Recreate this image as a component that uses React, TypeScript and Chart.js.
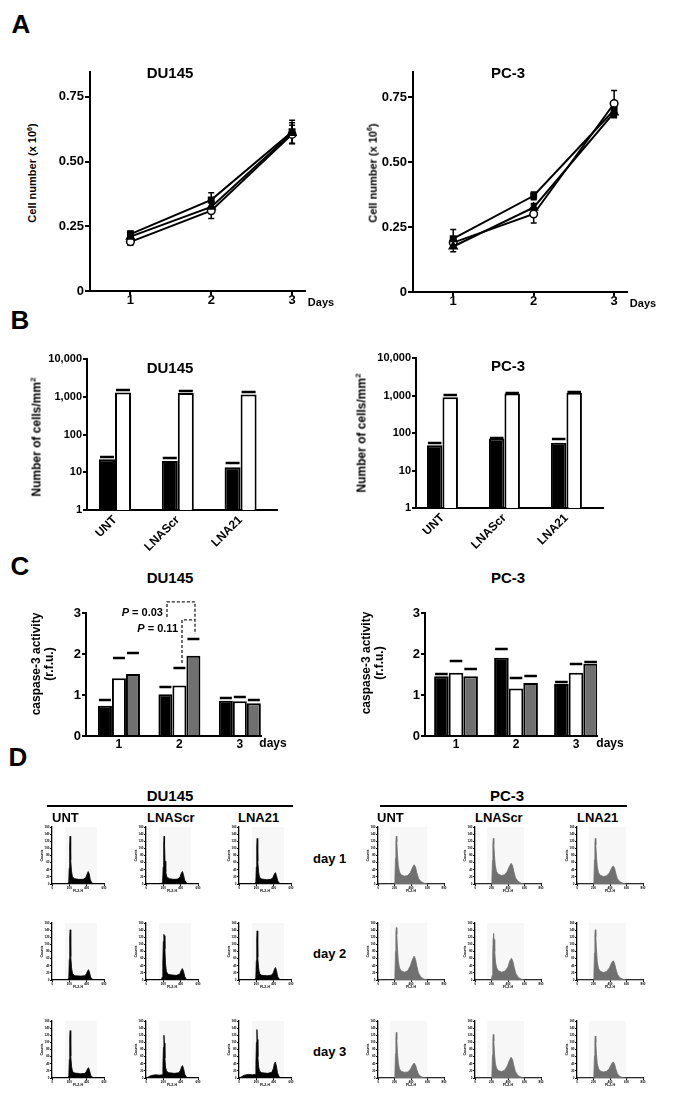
import React, { useEffect, useRef } from 'react';
import { Chart, registerables } from 'chart.js';

Chart.register(...registerables);

const FONT = "'Liberation Sans', Arial, Helvetica, sans-serif";
Chart.defaults.font.family = FONT;
Chart.defaults.color = '#000';

// ---------------- Panel A: growth curves ----------------
const A_DAYS = [1, 2, 3];
const A_X_LABELS = ['1', '2', '3'];
const A_Y_TICKS = [0, 0.25, 0.5, 0.75];
const A_Y_LABELS = ['0', '0.25', '0.50', '0.75'];

const DU_A_SQUARE = [0.22, 0.352, 0.615];
const DU_A_SQUARE_ERR = [0.012, 0.028, 0.045];
const DU_A_TRIANGLE = [0.21, 0.325, 0.61];
const DU_A_TRIANGLE_ERR = [0.01, 0.02, 0.04];
const DU_A_CIRCLE = [0.19, 0.31, 0.605];
const DU_A_CIRCLE_ERR = [0.013, 0.03, 0.035];

const PC_A_SQUARE = [0.205, 0.37, 0.7];
const PC_A_SQUARE_ERR = [0.035, 0.015, 0.02];
const PC_A_TRIANGLE = [0.175, 0.325, 0.69];
const PC_A_TRIANGLE_ERR = [0.02, 0.015, 0.02];
const PC_A_CIRCLE = [0.19, 0.3, 0.725];
const PC_A_CIRCLE_ERR = [0.015, 0.035, 0.05];

// ---------------- Panel B: invasion (log) ----------------
const B_CATS = ['UNT', 'LNAScr', 'LNA21'];
const B_POS = [1, 2, 3];
const B_Y_TICKS = [1, 10, 100, 1000, 10000];
const B_Y_LABELS = ['1', '10', '100', '1,000', '10,000'];

const DU_B_BLACK = [22, 20, 13.5];
const DU_B_BLACK_CAP = [26, 24.5, 17.5];
const DU_B_WHITE = [1300, 1250, 1150];
const DU_B_WHITE_CAP = [1480, 1380, 1300];

const PC_B_BLACK = [47, 71, 55];
const PC_B_BLACK_CAP = [55, 75, 68];
const PC_B_WHITE = [900, 1130, 1180];
const PC_B_WHITE_CAP = [1010, 1190, 1240];

// ---------------- Panel C: caspase-3 ----------------
const C_DAYS = [1, 2, 3];
const C_X_LABELS = ['1', '2', '3'];
const C_Y_TICKS = [0, 1, 2, 3];
const C_Y_LABELS = ['0', '1', '2', '3'];

const DU_C_BLACK = [0.74, 1.02, 0.86];
const DU_C_BLACK_CAP = [0.89, 1.19, 0.93];
const DU_C_WHITE = [1.41, 1.23, 0.85];
const DU_C_WHITE_CAP = [1.91, 1.67, 0.95];
const DU_C_GRAY = [1.51, 1.96, 0.8];
const DU_C_GRAY_CAP = [2.03, 2.37, 0.87];

const PC_C_BLACK = [1.46, 1.91, 1.27];
const PC_C_BLACK_CAP = [1.51, 2.11, 1.32];
const PC_C_WHITE = [1.54, 1.16, 1.54];
const PC_C_WHITE_CAP = [1.84, 1.41, 1.76];
const PC_C_GRAY = [1.46, 1.29, 1.76];
const PC_C_GRAY_CAP = [1.63, 1.47, 1.81];

const C_BRACKET_003 = [[1.795, 2.9], [1.795, 3.27], [2.258, 3.27], [2.258, 2.49]];
const C_BRACKET_011 = [[2.043, 1.78], [2.043, 2.83], [2.258, 2.83]];

// ---------------- Panel D: DNA content histograms ----------------
const DU_H_X_TICKS = [0, 200, 400, 600];
const PC_H_X_TICKS = [0, 200, 400, 600, 800];
const H_Y_TICKS = [0, 20, 40, 60, 80, 100, 120, 140, 160];
const DU_GATE = [150, 520];
const PC_GATE = [145, 595];

const DU_D1_UNT = [[0,0],[182,0],[193,6],[199,45],[204,105],[209,134],[213,112],[218,68],[225,36],[236,20],[260,15],[310,13],[360,13],[390,18],[405,28],[418,35],[430,28],[442,12],[460,3],[485,0],[600,0]];
const DU_D1_SCR = [[0,0],[180,0],[192,7],[198,48],[204,112],[209,134],[214,110],[220,64],[228,34],[240,20],[270,15],[320,13],[370,14],[393,20],[408,31],[420,35],[432,27],[446,11],[465,3],[490,0],[600,0]];
const DU_D1_LNA = [[0,0],[183,0],[194,6],[200,48],[205,104],[210,128],[214,106],[219,64],[226,34],[237,19],[262,14],[320,12],[370,13],[393,19],[408,28],[420,32],[432,24],[447,9],[466,2],[490,0],[600,0]];
const DU_D2_UNT = [[0,0],[183,0],[194,7],[200,58],[205,120],[210,141],[214,114],[219,66],[226,34],[237,18],[262,12],[330,11],[380,12],[398,18],[410,25],[421,29],[432,22],[446,8],[466,2],[490,0],[600,0]];
const DU_D2_SCR = [[0,0],[176,0],[187,8],[194,48],[200,108],[206,128],[212,124],[218,88],[225,46],[235,24],[255,16],[300,14],[350,13],[388,16],[405,26],[419,32],[432,25],[448,9],[467,2],[492,0],[600,0]];
const DU_D2_LNA = [[0,0],[183,0],[194,7],[200,55],[205,116],[210,138],[214,112],[219,64],[226,34],[237,18],[262,13],[330,12],[380,14],[398,22],[410,31],[421,35],[432,27],[446,10],[466,2],[490,0],[600,0]];
const DU_D3_UNT = [[0,0],[183,0],[194,6],[200,52],[205,112],[210,133],[214,108],[219,62],[226,32],[237,18],[262,14],[330,12],[380,13],[398,19],[410,26],[421,29],[432,22],[446,8],[466,2],[490,0],[600,0]];
const DU_D3_SCR = [[0,0],[20,2],[60,7],[110,9],[160,8],[185,9],[195,32],[201,86],[207,120],[212,98],[218,56],[226,30],[238,19],[262,15],[330,13],[380,15],[398,22],[410,31],[421,35],[433,27],[448,10],[468,2],[492,0],[600,0]];
const DU_D3_LNA = [[0,0],[20,2],[60,8],[110,10],[160,9],[185,10],[195,38],[201,100],[207,136],[212,108],[218,60],[226,32],[238,19],[262,15],[330,13],[378,16],[396,26],[408,40],[419,45],[431,34],[445,14],[464,3],[488,0],[600,0]];

const PC_D1_UNT = [[0,0],[196,0],[205,14],[212,72],[217,120],[222,134],[228,118],[236,82],[246,52],[260,34],[280,26],[320,22],[360,24],[392,32],[418,46],[438,54],[455,48],[470,32],[490,16],[520,7],[560,2],[600,0],[800,0]];
const PC_D1_SCR = [[0,0],[196,0],[205,13],[212,66],[217,114],[222,128],[228,112],[236,80],[246,52],[260,36],[280,28],[320,24],[360,26],[392,36],[418,50],[438,58],[455,52],[470,36],[490,18],[520,8],[560,2],[600,0],[800,0]];
const PC_D1_LNA = [[0,0],[196,0],[205,13],[212,68],[217,114],[222,128],[228,110],[236,76],[246,48],[260,32],[280,25],[320,21],[360,23],[392,31],[418,44],[438,51],[455,45],[470,30],[490,15],[520,6],[560,2],[600,0],[800,0]];
const PC_D2_UNT = [[0,0],[196,0],[205,15],[212,80],[217,132],[222,147],[228,128],[236,88],[246,54],[260,34],[280,26],[320,22],[360,26],[392,40],[418,58],[438,67],[455,58],[470,40],[490,20],[520,8],[560,2],[600,0],[800,0]];
const PC_D2_SCR = [[0,0],[199,0],[208,13],[215,68],[220,118],[225,131],[231,114],[239,80],[249,50],[263,34],[283,26],[325,22],[365,25],[398,36],[423,54],[443,61],[460,52],[475,36],[495,18],[525,7],[565,2],[605,0],[800,0]];
const PC_D2_LNA = [[0,0],[196,0],[205,15],[212,76],[217,128],[222,141],[228,122],[236,84],[246,52],[260,33],[280,25],[320,21],[360,24],[392,34],[418,48],[438,54],[455,47],[470,32],[490,16],[520,6],[560,2],[600,0],[800,0]];
const PC_D3_UNT = [[0,0],[196,0],[205,13],[212,68],[217,116],[222,128],[228,108],[236,72],[246,42],[260,26],[280,19],[320,16],[360,17],[392,24],[418,36],[438,42],[455,36],[470,24],[490,11],[520,4],[560,1],[600,0],[800,0]];
const PC_D3_SCR = [[0,0],[196,0],[205,12],[212,64],[217,110],[222,122],[228,104],[236,70],[246,42],[260,28],[280,21],[320,18],[360,22],[392,34],[418,50],[438,58],[455,52],[470,36],[490,18],[520,7],[560,2],[600,0],[800,0]];
const PC_D3_LNA = [[0,0],[196,0],[205,12],[212,62],[217,106],[222,118],[228,100],[236,66],[246,40],[260,27],[280,20],[320,17],[360,19],[392,27],[418,39],[438,45],[455,39],[470,26],[490,12],[520,4],[560,1],[600,0],[800,0]];

const D_COLUMNS = ['UNT', 'LNAScr', 'LNA21'];
const D_DAYS = ['day 1', 'day 2', 'day 3'];
const DU_HISTS = [[DU_D1_UNT, DU_D1_SCR, DU_D1_LNA], [DU_D2_UNT, DU_D2_SCR, DU_D2_LNA], [DU_D3_UNT, DU_D3_SCR, DU_D3_LNA]];
const PC_HISTS = [[PC_D1_UNT, PC_D1_SCR, PC_D1_LNA], [PC_D2_UNT, PC_D2_SCR, PC_D2_LNA], [PC_D3_UNT, PC_D3_SCR, PC_D3_LNA]];

// ---------------- layout (positions only) ----------------
const DU_H_LEFT = [52, 146, 239];
const PC_H_LEFT = [378, 475, 577];
const H_ROW_BOTTOM = [884, 980, 1078];
const GRAY = '#707070';

// ---------------- plugins ----------------
const errorPlugin = {
  id: 'errorBars',
  beforeDatasetsDraw(chart: any) {
    const ctx = chart.ctx;
    const ys = chart.scales.y;
    chart.data.datasets.forEach((ds: any, i: number) => {
      if (!ds.errors) return;
      const meta = chart.getDatasetMeta(i);
      ctx.save();
      ctx.strokeStyle = '#000';
      ctx.lineWidth = 1.5;
      meta.data.forEach((pt: any, j: number) => {
        const v = ds.data[j].y;
        const e = ds.errors[j];
        const y1 = ys.getPixelForValue(v + e);
        const y2 = ys.getPixelForValue(v - e);
        ctx.beginPath();
        ctx.moveTo(pt.x, y1); ctx.lineTo(pt.x, y2);
        ctx.moveTo(pt.x - 3, y1); ctx.lineTo(pt.x + 3, y1);
        ctx.moveTo(pt.x - 3, y2); ctx.lineTo(pt.x + 3, y2);
        ctx.stroke();
      });
      ctx.restore();
    });
  },
};

const capPlugin = {
  id: 'capBars',
  afterDatasetsDraw(chart: any) {
    const ctx = chart.ctx;
    const ys = chart.scales.y;
    chart.data.datasets.forEach((ds: any, i: number) => {
      if (!ds.caps) return;
      const meta = chart.getDatasetMeta(i);
      ctx.save();
      ctx.strokeStyle = '#000';
      ctx.lineWidth = 2.5;
      meta.data.forEach((bar: any, j: number) => {
        const y = Math.round(ys.getPixelForValue(ds.caps[j]));
        const hw = bar.width / 2 - 1;
        ctx.beginPath();
        ctx.moveTo(bar.x - hw, y);
        ctx.lineTo(bar.x + hw, y);
        ctx.stroke();
      });
      ctx.restore();
    });
  },
};

function bracketPlugin(lines: number[][][]) {
  return {
    id: 'brackets',
    afterDraw(chart: any) {
      const ctx = chart.ctx;
      const xs = chart.scales.x;
      const ys = chart.scales.y;
      ctx.save();
      ctx.strokeStyle = '#222';
      ctx.lineWidth = 1.3;
      ctx.setLineDash([3, 2]);
      lines.forEach((pts) => {
        ctx.beginPath();
        pts.forEach(([x, y], k) => {
          const px = xs.getPixelForValue(x);
          const py = ys.getPixelForValue(y);
          if (k === 0) ctx.moveTo(px, py); else ctx.lineTo(px, py);
        });
        ctx.stroke();
      });
      ctx.restore();
    },
  };
}

function gatePlugin(gate: number[]) {
  return {
    id: 'gate',
    beforeDatasetsDraw(chart: any) {
      const { ctx, chartArea } = chart;
      const xs = chart.scales.x;
      const x0 = xs.getPixelForValue(gate[0]);
      const x1 = xs.getPixelForValue(gate[1]);
      ctx.save();
      ctx.fillStyle = '#f7f7f7';
      ctx.fillRect(x0, chartArea.top, x1 - x0, chartArea.bottom - chartArea.top - 1);
      ctx.restore();
    },
  };
}

// ---------------- generic chart box ----------------
type Rect = { l: number; t: number; r: number; b: number };
type Margin = { ml: number; mt: number; mr: number; mb: number };

function ChartBox({ rect, m, make }: { rect: Rect; m: Margin; make: () => any }) {
  const ref = useRef<HTMLCanvasElement>(null);
  const x = rect.l - m.ml;
  const y = rect.t - m.mt;
  const w = rect.r - rect.l + m.ml + m.mr;
  const h = rect.b - rect.t + m.mt + m.mb;
  useEffect(() => {
    const cfg = make();
    const o = cfg.options;
    o.responsive = false;
    o.animation = false;
    o.devicePixelRatio = 1;
    o.events = [];
    o.layout = { padding: { top: m.mt, right: m.mr, left: 0, bottom: 0 } };
    o.plugins = { legend: { display: false }, tooltip: { enabled: false }, title: { display: false } };
    o.scales.x.afterFit = (s: any) => { s.height = m.mb; };
    o.scales.y.afterFit = (s: any) => { s.width = m.ml; };
    const chart = new Chart(ref.current as HTMLCanvasElement, cfg);
    return () => chart.destroy();
  }, []);
  return (
    <canvas
      ref={ref}
      width={w}
      height={h}
      style={{ position: 'absolute', left: x, top: y, width: w, height: h }}
    />
  );
}

const axisGrid = (len: number, lw: number) => ({
  display: true,
  drawOnChartArea: false,
  drawTicks: len > 0,
  tickLength: len,
  color: '#000',
  lineWidth: lw,
  offset: false,
});

// ---------------- config builders ----------------
function lineConfig(sq: number[], sqE: number[], tri: number[], triE: number[], cir: number[], cirE: number[]) {
  const mk = (vals: number[]) => A_DAYS.map((d, i) => ({ x: d, y: vals[i] }));
  const base = { borderColor: '#000', borderWidth: 2, tension: 0, pointBorderColor: '#000' };
  return {
    type: 'line',
    data: {
      datasets: [
        { ...base, data: mk(sq), errors: sqE, pointStyle: 'rect', pointRadius: 3.5, pointBackgroundColor: '#000' },
        { ...base, data: mk(tri), errors: triE, pointStyle: 'triangle', pointRadius: 4, pointBackgroundColor: '#000' },
        { ...base, data: mk(cir), errors: cirE, pointStyle: 'circle', pointRadius: 3.8, pointBorderWidth: 1.5, pointBackgroundColor: '#fff' },
      ],
    },
    options: {
      scales: {
        x: {
          type: 'linear', min: 0.5, max: 3.16, offset: false,
          afterBuildTicks: (s: any) => { s.ticks = A_DAYS.map((v) => ({ value: v })); },
          ticks: { autoSkip: false, maxRotation: 0, padding: -2, font: { size: 13, weight: 'bold' }, callback: (_v: any, i: number) => A_X_LABELS[i] },
          grid: axisGrid(4, 2),
          border: { display: true, color: '#000', width: 2 },
        },
        y: {
          type: 'linear', min: 0, max: 0.846,
          afterBuildTicks: (s: any) => { s.ticks = A_Y_TICKS.map((v) => ({ value: v })); },
          ticks: { autoSkip: false, padding: 1, font: { size: 13, weight: 'bold' }, callback: (_v: any, i: number) => A_Y_LABELS[i] },
          grid: axisGrid(5, 2),
          border: { display: true, color: '#000', width: 2 },
        },
      },
    },
    plugins: [errorPlugin],
  };
}

function logBarConfig(black: number[], blackCap: number[], white: number[], whiteCap: number[], xmin: number, xmax: number, pct: number) {
  const mk = (vals: number[]) => B_POS.map((p, i) => ({ x: p, y: vals[i] }));
  return {
    type: 'bar',
    data: {
      datasets: [
        { data: mk(black), caps: blackCap, backgroundColor: '#000', borderColor: '#000', borderWidth: 2, categoryPercentage: pct, barPercentage: 1 },
        { data: mk(white), caps: whiteCap, backgroundColor: '#fff', borderColor: '#000', borderWidth: 2, categoryPercentage: pct, barPercentage: 1 },
      ],
    },
    options: {
      scales: {
        x: {
          type: 'linear', min: xmin, max: xmax, offset: false,
          afterBuildTicks: (s: any) => { s.ticks = B_POS.map((v) => ({ value: v })); },
          ticks: { autoSkip: false, minRotation: 45, maxRotation: 45, padding: 3, font: { size: 12, weight: 'bold' }, callback: (_v: any, i: number) => B_CATS[i] },
          grid: axisGrid(0, 2),
          border: { display: true, color: '#000', width: 2 },
        },
        y: {
          type: 'logarithmic', min: 1, max: 10000,
          afterBuildTicks: (s: any) => { s.ticks = B_Y_TICKS.map((v) => ({ value: v })); },
          ticks: { autoSkip: false, padding: 1, font: { size: 11, weight: 'bold' }, callback: (_v: any, i: number) => B_Y_LABELS[i] },
          grid: axisGrid(4, 2),
          border: { display: true, color: '#000', width: 2 },
        },
      },
    },
    plugins: [capPlugin],
  };
}

function casBarConfig(
  black: number[], blackCap: number[], white: number[], whiteCap: number[], gray: number[], grayCap: number[],
  xmin: number, xmax: number, pct: number, extra: any[],
) {
  const mk = (vals: number[]) => C_DAYS.map((d, i) => ({ x: d, y: vals[i] }));
  const common = { borderColor: '#000', borderWidth: 2, categoryPercentage: pct, barPercentage: 1 };
  return {
    type: 'bar',
    data: {
      datasets: [
        { ...common, data: mk(black), caps: blackCap, backgroundColor: '#000' },
        { ...common, data: mk(white), caps: whiteCap, backgroundColor: '#fff' },
        { ...common, data: mk(gray), caps: grayCap, backgroundColor: GRAY },
      ],
    },
    options: {
      scales: {
        x: {
          type: 'linear', min: xmin, max: xmax, offset: false,
          afterBuildTicks: (s: any) => { s.ticks = C_DAYS.map((v) => ({ value: v })); },
          ticks: { autoSkip: false, maxRotation: 0, padding: 1, font: { size: 12, weight: 'bold' }, callback: (_v: any, i: number) => C_X_LABELS[i] },
          grid: axisGrid(0, 2),
          border: { display: true, color: '#000', width: 2 },
        },
        y: {
          type: 'linear', min: 0, max: 3,
          afterBuildTicks: (s: any) => { s.ticks = C_Y_TICKS.map((v) => ({ value: v })); },
          ticks: { autoSkip: false, padding: 1, font: { size: 13, weight: 'bold' }, callback: (_v: any, i: number) => C_Y_LABELS[i] },
          grid: axisGrid(4, 2),
          border: { display: true, color: '#000', width: 2 },
        },
      },
    },
    plugins: [capPlugin, ...extra],
  };
}

function histConfig(points: number[][], xMax: number, xTicks: number[], fill: string, gate: number[]) {
  return {
    type: 'line',
    data: {
      datasets: [
        {
          data: points.map(([x, y]) => ({ x, y })),
          fill: 'origin',
          backgroundColor: fill,
          borderColor: fill,
          borderWidth: 0.8,
          pointRadius: 0,
          tension: 0,
        },
      ],
    },
    options: {
      scales: {
        x: {
          type: 'linear', min: 0, max: xMax,
          afterBuildTicks: (s: any) => { s.ticks = xTicks.map((v) => ({ value: v })); },
          ticks: { autoSkip: false, maxRotation: 0, padding: 0.5, font: { size: 3, weight: 'bold' }, callback: (v: any) => String(v) },
          grid: axisGrid(2, 1),
          border: { display: true, color: '#000', width: 1.3 },
          title: { display: true, text: 'FL2-H', padding: 0, font: { size: 3.5, weight: 'bold' } },
        },
        y: {
          type: 'linear', min: 0, max: 160,
          afterBuildTicks: (s: any) => { s.ticks = H_Y_TICKS.map((v) => ({ value: v })); },
          ticks: { autoSkip: false, padding: 0.5, font: { size: 3, weight: 'bold' }, callback: (v: any) => String(v) },
          grid: axisGrid(2, 1),
          border: { display: true, color: '#000', width: 1.3 },
          title: { display: true, text: 'Counts', padding: 0, font: { size: 3.5, weight: 'bold' } },
        },
      },
    },
    plugins: [gatePlugin(gate)],
  };
}

// ---------------- text helpers ----------------
function Txt({ x, y, children, size = 13, bold = true, align = 'center', rot = false, italic = false, lh = 1 }: any) {
  const tx = align === 'center' ? '-50%' : align === 'right' ? '-100%' : '0';
  return (
    <div
      style={{
        position: 'absolute', left: x, top: y,
        transform: `translate(${tx}, -50%)${rot ? ' rotate(-90deg)' : ''}`,
        fontFamily: FONT, fontSize: size, fontWeight: bold ? 'bold' : 'normal',
        fontStyle: italic ? 'italic' : 'normal', lineHeight: lh, whiteSpace: 'nowrap',
        textAlign: 'center', color: '#000',
      }}
    >
      {children}
    </div>
  );
}

function HLine({ x1, x2, y }: any) {
  return <div style={{ position: 'absolute', left: x1, top: y - 1, width: x2 - x1, height: 2, background: '#000' }} />;
}

// ---------------- App ----------------
export default function App() {
  const histMargin = { ml: 12, mt: 3, mr: 4, mb: 9 };
  const hists: any[] = [];
  H_ROW_BOTTOM.forEach((b, r) => {
    DU_H_LEFT.forEach((l, c) => {
      hists.push(
        <ChartBox key={`du${r}${c}`} rect={{ l, t: b - 57, r: l + 52, b }} m={histMargin}
          make={() => histConfig(DU_HISTS[r][c], 600, DU_H_X_TICKS, '#000', DU_GATE)} />,
      );
    });
    PC_H_LEFT.forEach((l, c) => {
      hists.push(
        <ChartBox key={`pc${r}${c}`} rect={{ l, t: b - 57, r: l + 66, b }} m={histMargin}
          make={() => histConfig(PC_HISTS[r][c], 800, PC_H_X_TICKS, GRAY, PC_GATE)} />,
      );
    });
  });

  return (
    <div style={{ position: 'absolute', left: 0, top: 0, width: 685, height: 1096, background: '#fff', overflow: 'hidden' }}>
      {/* Panel letters */}
      <Txt x={21} y={24} size={26}>A</Txt>
      <Txt x={20} y={320} size={26}>B</Txt>
      <Txt x={20} y={566} size={26}>C</Txt>
      <Txt x={18} y={757} size={26}>D</Txt>

      {/* Panel A */}
      <ChartBox rect={{ l: 90, t: 72, r: 305, b: 291 }} m={{ ml: 50, mt: 12, mr: 15, mb: 30 }}
        make={() => lineConfig(DU_A_SQUARE, DU_A_SQUARE_ERR, DU_A_TRIANGLE, DU_A_TRIANGLE_ERR, DU_A_CIRCLE, DU_A_CIRCLE_ERR)} />
      <ChartBox rect={{ l: 413, t: 72, r: 627, b: 292 }} m={{ ml: 50, mt: 12, mr: 15, mb: 30 }}
        make={() => lineConfig(PC_A_SQUARE, PC_A_SQUARE_ERR, PC_A_TRIANGLE, PC_A_TRIANGLE_ERR, PC_A_CIRCLE, PC_A_CIRCLE_ERR)} />
      <Txt x={170} y={72} size={15}>DU145</Txt>
      <Txt x={508} y={72} size={15}>PC-3</Txt>
      <Txt x={32} y={173} size={11} rot>Cell number (x 10<sup style={{ fontSize: 7 }}>6</sup>)</Txt>
      <Txt x={372} y={173} size={11} rot>Cell number (x 10<sup style={{ fontSize: 7 }}>6</sup>)</Txt>
      <Txt x={321} y={302} size={11}>Days</Txt>
      <Txt x={643} y={303} size={11}>Days</Txt>

      {/* Panel B */}
      <ChartBox rect={{ l: 87, t: 359, r: 277, b: 510 }} m={{ ml: 50, mt: 14, mr: 15, mb: 55 }}
        make={() => logBarConfig(DU_B_BLACK, DU_B_BLACK_CAP, DU_B_WHITE, DU_B_WHITE_CAP, 0.554, 3.58, 0.51)} />
      <ChartBox rect={{ l: 416, t: 358, r: 603, b: 508 }} m={{ ml: 50, mt: 14, mr: 15, mb: 55 }}
        make={() => logBarConfig(PC_B_BLACK, PC_B_BLACK_CAP, PC_B_WHITE, PC_B_WHITE_CAP, 0.573, 3.59, 0.5)} />
      <Txt x={170} y={367} size={15}>DU145</Txt>
      <Txt x={508} y={365} size={15}>PC-3</Txt>
      <Txt x={36} y={437} size={12} rot>Number of cells/mm<sup style={{ fontSize: 8 }}>2</sup></Txt>
      <Txt x={361} y={433} size={12} rot>Number of cells/mm<sup style={{ fontSize: 8 }}>2</sup></Txt>

      {/* Panel C */}
      <ChartBox rect={{ l: 86, t: 613, r: 261, b: 736 }} m={{ ml: 40, mt: 23, mr: 10, mb: 22 }}
        make={() => casBarConfig(DU_C_BLACK, DU_C_BLACK_CAP, DU_C_WHITE, DU_C_WHITE_CAP, DU_C_GRAY, DU_C_GRAY_CAP,
          0.455, 3.35, 0.695, [bracketPlugin([C_BRACKET_003, C_BRACKET_011])])} />
      <ChartBox rect={{ l: 425, t: 613, r: 597, b: 736 }} m={{ ml: 40, mt: 23, mr: 10, mb: 22 }}
        make={() => casBarConfig(PC_C_BLACK, PC_C_BLACK_CAP, PC_C_WHITE, PC_C_WHITE_CAP, PC_C_GRAY, PC_C_GRAY_CAP,
          0.483, 3.35, 0.73, [])} />
      <Txt x={170} y={577} size={15}>DU145</Txt>
      <Txt x={508} y={577} size={15}>PC-3</Txt>
      <Txt x={43} y={664} size={12} rot lh={1.1}>caspase-3 activity<br />(r.f.u.)</Txt>
      <Txt x={373} y={663} size={12} rot lh={1.1}>caspase-3 activity<br />(r.f.u.)</Txt>
      <Txt x={273} y={743} size={12}>days</Txt>
      <Txt x={610} y={743} size={12}>days</Txt>
      <Txt x={163} y={612} size={11} align="right"><i>P</i> = 0.03</Txt>
      <Txt x={178} y={628} size={11} align="right"><i>P</i> = 0.11</Txt>

      {/* Panel D */}
      <Txt x={170} y={795} size={15}>DU145</Txt>
      <HLine x1={47} x2={293} y={806} />
      <Txt x={507} y={795} size={15}>PC-3</Txt>
      <HLine x1={380} x2={627} y={806} />
      {D_COLUMNS.map((c, i) => (
        <Txt key={`duc${i}`} x={[52, 147, 238][i]} y={817} size={13} align="left">{c}</Txt>
      ))}
      {D_COLUMNS.map((c, i) => (
        <Txt key={`pcc${i}`} x={[377, 475, 577][i]} y={817} size={13} align="left">{c}</Txt>
      ))}
      {D_DAYS.map((d, i) => (
        <Txt key={`day${i}`} x={313} y={[858, 953, 1051][i]} size={13} align="left">{d}</Txt>
      ))}
      {hists}
    </div>
  );
}
